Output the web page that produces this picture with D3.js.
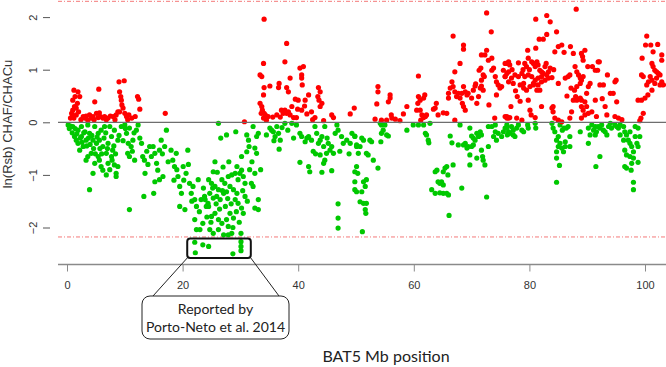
<!DOCTYPE html>
<html>
<head>
<meta charset="utf-8">
<script src="https://cdn.jsdelivr.net/npm/d3@7"></script>
<style>
  body { margin: 0; background: #fff; }
  svg { display: block; }
</style>
</head>
<body>
<svg id="chart"></svg>
<script>
// BAT5 Mb position vs ln(Rsb) CHAF/CHACu
const xTicks = [0, 20, 40, 60, 80, 100];
const yTicks = [-2, -1, 0, 1, 2];
const thresholds = [2.3, -2.18];
const xLabel = "BAT5 Mb position";
const yLabel = "ln(Rsb) CHAF/CHACu";
const noteLines = ["Reported by", "Porto-Neto et al. 2014"];
// highlighted region [Mb from, Mb to, value top, value bottom]
const noteRegion = [20.8, 31.8, -2.21, -2.58];

// [Mb, ln(Rsb)] positive values
const redPoints = [
  [1.2,0.61],[1.9,0.58],[2.2,0.49],[1.8,0.36],[1.3,0.30],[1.0,0.23],[0.8,0.17],[1.6,0.14],[2.0,0.20],[1.2,0.08],
  [0.9,0.11],[1.6,0.27],[1.0,0.42],[1.4,0.49],[0.6,0.08],[2.8,0.11],[3.3,0.12],[3.9,0.14],[4.5,0.11],[5.1,0.17],
  [5.6,0.18],[5.8,0.11],[6.2,0.08],[4.8,0.39],[5.5,0.63],[3.1,0.08],[4.2,0.08],[5.4,0.09],[6.5,0.11],[7.1,0.08],
  [8.0,0.11],[8.5,0.14],[8.8,0.20],[9.0,0.77],[9.9,0.79],[9.1,0.58],[9.3,0.49],[9.4,0.42],[9.5,0.33],[9.7,0.27],
  [9.1,0.20],[10.0,0.17],[10.3,0.11],[10.7,0.14],[11.8,0.11],[12.2,0.49],[12.4,0.44],[12.6,0.25],[17.0,0.17],
  [2.4,0.05],[3.6,0.04],[4.7,0.05],[6.8,0.05],[7.5,0.12],[8.3,0.05],[10.5,0.05],[11.2,0.08],
  [34.1,1.96],[38.0,1.50],[34.0,1.12],[37.7,1.15],[40.3,1.03],[40.9,1.06],[33.4,0.90],[33.7,0.87],[36.7,0.74],[36.6,0.66],
  [38.6,0.84],[40.6,0.90],[40.6,0.84],[40.7,0.71],[34.1,0.66],[35.1,0.69],[38.0,0.66],[38.3,0.58],[43.5,0.66],[43.8,0.58],
  [43.4,0.49],[43.6,0.42],[44.1,0.36],[43.8,0.30],[34.0,0.52],[39.5,0.44],[40.0,0.42],[41.2,0.42],[41.8,0.52],[41.1,0.31],
  [40.6,0.23],[33.4,0.36],[33.7,0.30],[33.8,0.23],[34.3,0.14],[34.5,0.11],[34.0,0.08],[34.8,0.11],[33.6,0.17],[34.1,0.17],
  [34.5,0.04],[37.1,0.23],[37.7,0.23],[38.0,0.17],[38.3,0.20],[38.6,0.14],[39.2,0.09],[39.7,0.09],[36.3,0.14],[37.4,0.17],
  [41.5,0.16],[42.9,0.09],[44.4,0.03],[45.8,0.14],[46.1,0.09],[49.0,0.16],[49.7,0.27],[30.7,0.01],
  [35.6,0.10],[36.9,0.10],[38.9,0.30],[39.9,0.25],[42.3,0.20],[42.5,0.05],
  [53.8,0.68],[53.8,0.58],[53.6,0.35],[55.9,0.52],[55.9,0.46],[55.6,0.39],[53.3,0.06],[54.4,0.04],[55.3,0.04],[56.2,0.08],
  [56.8,0.06],[57.6,0.03],[58.2,0.16],[58.8,0.30],[56.1,0.14],[60.8,0.88],[60.8,0.49],[61.1,0.42],[60.7,0.36],[61.9,0.52],
  [61.7,0.46],[60.5,0.23],[61.1,0.23],[61.4,0.14],[61.7,0.09],[62.0,0.11],[62.2,0.14],[61.2,0.04],[63.9,0.36],[63.7,0.27],
  [63.4,0.25],[65.1,0.18],[64.2,0.14],[65.7,0.17],[66.8,1.64],[68.6,1.47],[68.6,1.39],[68.0,1.12],[67.1,0.96],[66.6,0.77],
  [66.8,0.68],[66.3,0.65],[66.0,0.55],[66.0,0.46],[67.1,0.58],[67.7,0.55],[67.4,0.49],[68.0,0.46],[68.3,0.55],[68.6,0.68],
  [68.9,0.58],[68.4,0.36],[68.6,0.30],[68.9,0.23],[69.2,0.52],[69.4,0.55],[70.0,0.46],[70.3,0.61],[70.6,0.69],[70.7,0.73],
  [70.9,0.36],[71.2,0.49],[71.5,0.65],[71.7,0.69],[72.0,0.61],[71.7,0.80],[71.3,0.99],[71.6,1.03],[72.0,0.90],[72.2,0.87],
  [71.7,1.28],[72.3,1.28],[72.6,1.37],[73.4,1.72],[72.6,2.08],[72.9,1.18],[73.5,1.22],[73.5,0.99],[73.8,1.03],[74.1,0.87],
  [74.3,0.77],[74.6,0.71],[74.9,0.65],[75.2,0.68],[75.5,0.99],[75.8,0.87],[76.1,1.12],[76.4,0.96],[74.3,0.52],[73.0,0.33],
  [74.0,0.08],[67.1,0.04],[76.1,0.11],[76.4,0.08],
  [88.1,2.15],[83.0,2.03],[81.1,1.96],[83.6,1.91],[84.7,1.72],[83.0,1.67],[81.7,1.58],[82.4,1.58],[79.7,1.37],[81.1,1.41],
  [84.4,1.34],[85.0,1.44],[85.6,1.47],[86.0,1.33],[87.1,1.44],[87.6,1.31],[89.0,1.31],[89.6,1.37],[89.2,1.25],[89.3,1.18],
  [91.9,1.15],[75.8,1.12],[76.4,1.15],[76.6,1.09],[78.1,1.13],[79.2,1.12],[79.5,1.06],[79.8,1.22],[80.4,1.15],[80.7,1.12],
  [81.0,1.06],[81.3,1.15],[81.5,1.09],[81.8,0.99],[82.1,0.96],[82.4,0.93],[82.7,1.06],[83.0,0.90],[83.3,0.96],[83.6,1.03],
  [83.3,0.84],[82.7,0.80],[82.1,0.77],[81.5,0.84],[81.0,0.80],[80.4,0.87],[79.8,0.90],[79.2,0.87],[78.7,0.93],[78.1,0.87],
  [77.5,0.90],[76.9,0.84],[76.4,0.77],[75.8,0.87],[76.1,0.93],[77.2,0.74],[78.4,0.71],[79.0,0.65],[79.5,0.61],[80.1,0.68],
  [80.7,0.74],[81.3,0.61],[81.5,0.71],[82.1,0.87],[79.0,0.74],[81.8,0.61],[77.9,0.49],[79.8,0.42],[80.7,0.71],[85.0,0.74],
  [86.2,0.84],[86.7,0.87],[87.0,0.90],[87.9,1.06],[88.2,0.96],[88.5,0.90],[88.8,0.84],[89.0,0.80],[89.3,0.87],[88.8,0.74],
  [88.2,0.68],[87.8,0.61],[88.0,0.49],[87.6,0.42],[88.2,0.42],[88.8,0.46],[89.0,0.42],[89.6,0.39],[89.9,0.55],[90.2,0.68],
  [90.5,0.74],[90.1,1.06],[90.9,1.06],[91.4,0.99],[91.8,0.99],[92.1,1.15],[89.0,0.30],[89.3,0.23],[89.9,0.30],[90.2,0.17],
  [90.8,0.20],[89.6,0.14],[89.0,0.08],[87.3,0.20],[87.0,0.08],[91.4,0.42],[92.2,0.71],[92.8,0.71],[93.1,0.30],[93.4,0.14],
  [94.0,0.55],[94.5,0.55],[94.8,0.77],[95.0,0.80],[95.1,0.39],[94.8,0.11],[95.4,0.08],[91.6,0.11],
  [77.0,1.00],[78.9,1.00],[80.0,1.00],[82.9,1.12],[83.9,0.85],[84.2,1.00],[77.6,0.60],[78.4,0.40],[76.8,0.30],[86.5,0.50],
  [87.2,0.65],[93.5,0.90],[92.6,0.45],[96.0,0.05],
  [75.8,0.11],[76.1,0.08],[76.6,0.09],[77.8,0.08],[78.7,0.04],[80.1,0.23],[80.3,0.14],[81.0,0.09],[82.1,0.30],[83.9,0.27],
  [84.1,0.20],[84.4,0.08],[85.0,0.04],[85.6,0.01],[84.1,0.30],
  [100.3,1.64],[100.1,1.47],[101.0,1.47],[102.2,1.48],[101.4,1.34],[99.5,1.22],[102.9,1.28],[102.9,1.18],[101.2,1.12],[101.4,1.06],
  [101.7,0.99],[102.0,0.96],[102.3,0.93],[102.6,0.90],[102.0,0.84],[102.9,0.77],[102.6,0.71],[101.7,0.74],[101.2,0.80],[100.6,0.77],
  [100.9,0.87],[99.4,0.90],[99.7,0.87],[103.2,0.71],[100.3,0.71],[100.5,0.52],[100.0,0.46],[99.4,0.42],[98.8,0.42],[101.2,0.61],
  [99.7,0.17],[99.3,0.08],[99.1,0.03]
];

// [Mb, ln(Rsb)] negative values
const greenPoints = [
  [0.2,-0.05],[0.6,-0.07],[1.0,-0.08],[1.3,-0.27],[1.6,-0.34],[1.9,-0.15],[2.2,-0.53],[2.8,-0.46],[3.3,-0.34],[3.9,-0.21],
  [4.2,-0.59],[3.6,-0.65],[3.3,-0.72],[2.5,-0.08],[3.1,-0.18],[3.6,-0.05],[4.8,-0.08],[5.4,-0.21],[5.9,-0.15],[6.5,-0.08],
  [4.5,-0.34],[5.1,-0.40],[5.6,-0.34],[6.2,-0.46],[2.5,-0.27],[1.9,-0.40],[4.5,-0.97],[4.8,-0.78],[5.4,-0.65],[5.6,-0.72],
  [5.9,-0.84],[6.2,-0.91],[3.9,-1.28],[6.8,-1.00],[7.1,-0.78],[7.7,-0.65],[7.9,-0.53],[8.2,-0.81],[8.5,-1.03],[8.8,-0.84],
  [8.5,-0.97],[7.1,-0.40],[7.7,-0.27],[8.2,-0.15],[7.4,-0.08],[6.8,-0.59],[8.8,-0.34],[9.4,-0.08],[10.0,-0.05],[10.3,-0.21],
  [10.5,-0.59],[10.8,-0.65],[11.1,-0.46],[11.4,-0.34],[10.8,-1.66],[11.7,-0.72],[12.0,-0.15],[12.3,-0.05],[10.8,-0.11],[12.9,-0.40],
  [13.1,-0.65],[13.4,-0.72],[13.5,-0.97],[13.3,-1.41],[14.3,-0.46],[14.6,-0.65],[14.9,-0.46],[15.2,-0.59],[15.5,-0.78],[15.7,-0.91],
  [16.0,-0.53],[16.3,-0.34],[16.9,-0.46],[17.2,-0.15],[16.6,-1.03],[16.0,-1.09],[15.2,-1.13],[15.0,-1.35],[18.0,-0.53],[18.3,-0.72],
  [18.6,-0.84],[18.9,-0.59],[19.2,-1.03],[19.5,-1.22],[19.8,-1.35],[19.5,-1.60],[20.4,-1.66],[20.1,-0.84],[20.6,-0.97],[20.9,-0.53],
  [21.2,-1.16],[21.5,-1.35],[21.8,-1.22],[22.1,-1.47],[22.4,-1.60],[22.7,-1.09],[22.1,-1.85],[22.4,-2.04],[23.2,-1.47],[23.8,-1.41],
  [24.1,-1.60],[23.5,-1.92],[23.0,-2.04],[24.4,-1.54],
  [0.4,-0.12],[0.9,-0.20],[1.4,-0.12],[1.7,-0.22],[2.3,-0.30],[2.6,-0.38],[2.9,-0.20],[3.4,-0.45],[3.7,-0.30],[4.0,-0.42],
  [4.3,-0.25],[4.6,-0.50],[4.9,-0.60],[5.2,-0.28],[5.7,-0.50],[6.0,-0.60],[6.4,-0.30],[6.7,-0.20],[7.0,-0.50],[7.4,-0.90],
  [7.8,-0.72],[8.1,-0.45],[8.4,-0.60],[9.0,-0.25],[9.7,-0.35],[10.1,-0.12],[10.6,-0.40],[11.3,-0.55],[11.6,-0.20],[12.6,-0.30],
  [13.8,-0.55],[14.0,-0.80],[16.5,-0.60],[17.5,-0.75],[18.5,-1.10],[19.0,-0.90],[20.2,-1.10],[21.0,-0.80],[21.6,-1.50],[22.9,-1.70],
  [23.6,-1.25],
  [22.1,-2.28],[23.5,-2.33],[24.5,-2.36],[22.2,-2.48],[28.7,-2.50],[30.1,-2.44],[30.1,-2.36],
  [26.2,-0.02],[26.6,-0.30],[27.6,-0.24],[29.2,-0.18],[31.1,-0.24],[31.4,-0.34],[31.5,-0.46],[32.2,-0.08],[32.8,-0.27],[33.1,-0.21],
  [32.5,-0.49],[32.8,-0.59],[34.5,-0.24],[35.1,-0.11],[35.4,-0.15],[35.7,-0.18],[36.0,-0.27],[36.3,-0.08],[36.6,-0.21],[36.9,-0.34],
  [36.7,-0.51],[37.7,-0.02],[38.9,-0.02],[39.7,-0.05],[40.3,-0.21],[40.6,-0.27],[41.2,-0.37],[41.5,-0.30],[41.8,-0.27],[42.3,-0.34],
  [42.9,-0.08],[43.2,-0.21],[43.5,-0.40],[43.8,-0.34],[44.1,-0.27],[44.4,-0.46],[44.6,-0.08],[44.9,-0.59],[45.2,-0.40],[45.5,-0.53],
  [45.8,-0.46],[46.1,-0.59],[46.4,-0.21],[46.7,-0.05],[46.9,-0.15],[47.5,-0.27],[47.8,-0.40],[48.4,-0.34],[49.0,-0.40],[49.3,-0.21],
  [49.8,-0.27],[50.1,-0.46],[43.8,-0.62],[44.4,-0.78],[44.6,-0.72],[41.8,-0.84],[42.0,-0.94],[40.3,-0.76],[44.1,-0.95],[45.8,-0.92],
  [49.8,-0.94],[46.9,-1.55],[46.9,-1.82],[46.9,-2.01],[49.8,-1.28],
  [35.8,-0.35],[37.2,-0.10],[38.2,-0.15],[39.2,-0.30],[42.6,-0.55],[43.0,-0.60],[45.0,-0.30],[47.2,-0.55],[48.8,-0.60],
  [25.6,-0.75],[25.3,-0.94],[24.5,-1.09],[25.0,-1.16],[25.6,-1.22],[26.2,-1.28],[26.8,-1.09],[27.3,-1.16],[27.9,-1.03],[28.5,-1.00],
  [29.1,-0.97],[29.4,-0.84],[29.6,-1.09],[29.9,-0.97],[30.2,-0.91],[30.5,-1.03],[30.8,-1.16],[30.2,-0.65],[31.1,-0.56],[24.7,-1.35],
  [25.3,-1.44],[25.9,-1.41],[26.5,-1.47],[27.1,-1.35],[27.6,-1.32],[28.2,-1.22],[28.8,-1.28],[29.4,-1.35],[29.1,-1.47],[29.6,-1.54],
  [30.2,-1.63],[30.5,-1.73],[30.8,-1.41],[31.9,-1.16],[32.5,-0.97],[32.2,-1.22],[33.1,-1.47],[33.1,-1.66],[32.5,-1.63],[23.9,-1.47],
  [24.5,-1.60],[25.0,-1.79],[25.6,-1.73],[26.2,-1.85],[26.8,-1.92],[27.6,-1.85],[28.2,-1.73],[28.8,-1.82],[27.9,-1.98],[26.2,-2.04],
  [24.7,-2.04],[25.3,-2.11],[27.1,-2.14],[27.9,-2.14],[28.5,-2.11],[30.1,-2.11],[30.1,-2.27],
  [24.9,-1.90],[25.8,-1.55],[26.4,-1.65],[26.9,-1.30],[27.4,-1.60],[27.8,-1.45],[28.4,-1.55],[28.7,-2.00],[29.3,-1.70],[29.8,-1.90],
  [30.4,-1.30],[31.2,-1.50],[31.6,-0.90],[32.0,-0.75],[33.5,-0.90],[26.0,-0.95],[27.0,-0.85],[28.0,-0.75],[25.2,-1.25],[24.2,-1.80],
  [49.8,-0.26],[50.1,-0.43],[50.4,-0.59],[50.3,-0.97],[50.1,-0.84],[49.8,-1.13],[51.0,-0.30],[51.3,-0.34],[50.7,-0.46],[51.8,-0.59],
  [52.1,-0.62],[52.4,-0.34],[52.7,-0.37],[53.0,-0.72],[53.8,-0.87],[51.3,-1.13],[51.8,-1.09],[51.6,-1.22],[51.0,-1.32],[50.1,-1.32],
  [50.7,-1.51],[51.3,-1.54],[51.8,-1.54],[51.6,-1.66],[51.7,-1.73],[51.1,-2.08],[54.2,-0.02],[54.4,-0.05],[55.0,-0.05],[54.7,-0.15],
  [54.4,-0.21],[55.3,-0.24],[55.6,-0.26],[54.3,-0.37],[58.8,-0.15],[59.9,-0.05],[60.8,-0.05],[61.7,-0.05],[62.8,-0.02],[62.0,-0.21],
  [62.2,-0.24],[62.5,-0.34],[62.6,-0.39],[66.3,-0.26],[66.6,-0.39],[63.7,-0.94],[64.0,-0.91],[65.1,-0.94],[65.4,-0.87],[65.7,-0.84],
  [66.8,-0.81],[65.9,-1.00],[64.2,-1.13],[64.5,-1.16],[64.8,-1.13],[65.1,-1.19],[63.1,-1.28],[63.7,-1.35],[64.5,-1.34],[65.1,-1.35],
  [65.7,-1.35],[66.0,-1.38],[68.3,-1.25],[66.1,-1.77],[68.0,-0.05],[69.7,-0.11],[70.0,-0.26],[70.3,-0.30],[70.9,-0.21],[71.2,-0.27],
  [71.5,-0.18],[71.7,-0.24],[70.6,-0.34],[69.4,-0.46],[69.2,-0.49],[70.0,-0.46],[70.3,-0.43],[69.7,-0.62],[69.7,-0.81],[70.9,-0.68],
  [71.7,-0.53],[71.9,-0.65],[72.0,-0.72],[72.3,-0.81],[72.9,-0.46],[72.9,-0.08],[73.5,-0.08],[74.1,-0.05],[74.1,-0.18],[73.8,-0.27],
  [74.3,-0.34],[74.6,-0.21],[75.2,-0.27],[75.5,-0.18],[75.8,-0.11],[76.1,-0.05],[72.6,-1.42],[67.7,-0.43],[68.6,-0.43],[68.9,-0.40],
  [76.1,-0.11],[76.4,-0.18],[76.6,-0.21],[76.9,-0.08],[77.2,-0.15],[77.5,-0.27],[77.8,-0.11],[78.1,-0.05],[78.7,-0.15],[79.0,-0.18],
  [79.7,-0.05],[79.8,-0.11],[81.0,-0.02],[81.1,-0.11],[76.2,-0.24],[77.2,-0.24],[83.9,-0.02],[84.1,-0.11],[84.4,-0.18],[85.0,-0.27],
  [84.7,-0.34],[85.3,-0.40],[85.6,-0.49],[85.9,-0.56],[86.2,-0.46],[86.4,-0.11],[86.7,-0.08],[87.0,-0.27],[87.0,-0.46],[85.0,-0.46],
  [84.7,-0.56],[85.3,-0.05],[85.7,-0.15],[86.2,-0.37],[84.7,-0.68],[85.2,-0.82],[84.7,-1.14],[86.0,-0.11],[88.8,-0.18],[90.2,-0.11],
  [90.5,-0.24],[90.8,-0.05],[91.1,-0.15],[91.4,-0.08],[91.6,-0.18],[91.9,-0.08],[92.2,-0.11],[92.5,-0.05],[92.8,-0.15],[93.1,-0.18],
  [93.4,-0.24],[93.7,-0.08],[94.0,-0.02],[94.2,-0.11],[94.8,-0.05],[95.1,-0.08],[95.4,-0.11],[95.7,-0.05],[95.7,-0.24],[90.2,-0.40],
  [92.2,-0.65],[91.5,-0.84],[91.4,-0.24],[96.3,-0.08],[96.5,-0.18],[96.8,-0.24],[97.1,-0.34],[97.4,-0.40],[97.7,-0.46],[98.0,-0.56],
  [96.5,-0.53],[96.8,-0.62],[97.4,-0.65],[97.7,-0.78],[98.0,-0.68],[98.3,-0.27],[98.6,-0.40],[98.8,-0.46],[99.1,-0.27],[98.8,-0.11],
  [98.3,-0.08],[96.5,-0.84],[96.8,-0.87],[97.6,-0.91],[98.8,-0.76],[98.0,-1.14],[98.0,-1.28],[96.3,-0.34],[97.4,-0.18]
];

const width = 666, height = 367;
const svg = d3.select("#chart").attr("width", width).attr("height", height);

const x = d3.scaleLinear().domain([0, 100]).range([67, 645]);
const y = d3.scaleLinear().domain([-2, 2]).range([227.5, 17.1]);
const plotLeft = 58, plotRight = width, axisY = 264.5;

// significance thresholds
svg.append("g").selectAll("line")
    .data(thresholds)
    .join("line")
    .attr("x1", plotLeft).attr("x2", plotRight)
    .attr("y1", d => y(d)).attr("y2", d => y(d))
    .attr("stroke", "#f47a7a")
    .attr("stroke-width", 1)
    .attr("stroke-dasharray", "4,2,1,2");

// points
const pts = svg.append("g");
pts.selectAll("circle.neg")
    .data(greenPoints)
    .join("circle")
    .attr("class", "neg")
    .attr("cx", d => x(d[0])).attr("cy", d => y(d[1]))
    .attr("r", 2.6)
    .attr("fill", "#00c800");
pts.selectAll("circle.pos")
    .data(redPoints)
    .join("circle")
    .attr("class", "pos")
    .attr("cx", d => x(d[0])).attr("cy", d => y(d[1]))
    .attr("r", 2.6)
    .attr("fill", "#ff0000");

// zero line
svg.append("line")
    .attr("x1", plotLeft).attr("x2", plotRight)
    .attr("y1", y(0)).attr("y2", y(0))
    .attr("stroke", "#6e6e6e")
    .attr("stroke-width", 1.3);

// x axis
const xAxis = svg.append("g")
    .attr("transform", `translate(0, ${axisY})`)
    .call(d3.axisBottom(x).tickValues(xTicks).tickSize(7).tickPadding(10));
xAxis.select(".domain").remove();
xAxis.append("line")
    .attr("x1", plotLeft).attr("x2", plotRight)
    .attr("stroke", "#8a8a8a").attr("stroke-width", 1.5);
xAxis.selectAll(".tick line").attr("stroke", "#8a8a8a");
xAxis.selectAll("text")
    .style("font-family", "'Liberation Sans', Arial, sans-serif")
    .style("font-size", "11px")
    .attr("fill", "#333");

// y axis, R style rotated labels
const yAxis = svg.append("g")
    .attr("transform", "translate(50, 0)")
    .call(d3.axisLeft(y).tickValues(yTicks).tickSize(7).tickFormat(d3.format("d")));
yAxis.select(".domain").remove();
yAxis.selectAll(".tick line").attr("stroke", "#555");
yAxis.selectAll("text")
    .attr("x", 0).attr("dy", "0.35em")
    .attr("text-anchor", "middle")
    .attr("transform", "translate(-17, 0) rotate(-90)")
    .style("font-family", "'Liberation Sans', Arial, sans-serif")
    .style("font-size", "11px")
    .attr("fill", "#333");

svg.append("text")
    .attr("transform", "translate(12, 124) rotate(-90)")
    .attr("text-anchor", "middle")
    .style("font-family", "'Liberation Sans', Arial, sans-serif")
    .style("font-size", "13px")
    .attr("fill", "#333")
    .text(yLabel);

svg.append("text")
    .attr("x", 386).attr("y", 362)
    .attr("text-anchor", "middle")
    .style("font-family", "Lato, 'Open Sans', sans-serif")
    .style("font-size", "16px")
    .attr("fill", "#222")
    .text(xLabel);

// annotation box and callout
const bx0 = x(noteRegion[0]), bx1 = x(noteRegion[1]);
const by0 = y(noteRegion[2]), by1 = y(noteRegion[3]);
const note = svg.append("g");
note.append("rect")
    .attr("x", bx0).attr("y", by0)
    .attr("width", bx1 - bx0).attr("height", by1 - by0)
    .attr("rx", 3)
    .attr("fill", "none").attr("stroke", "#111").attr("stroke-width", 2);

const cx0 = 142, cx1 = 289, cy0 = 296, cy1 = 339;
note.append("line").attr("x1", bx0).attr("y1", by1).attr("x2", 153).attr("y2", cy0)
    .attr("stroke", "#222").attr("stroke-width", 1);
note.append("line").attr("x1", bx1).attr("y1", by1).attr("x2", 279).attr("y2", cy0)
    .attr("stroke", "#222").attr("stroke-width", 1);
note.append("rect")
    .attr("x", cx0).attr("y", cy0)
    .attr("width", cx1 - cx0).attr("height", cy1 - cy0)
    .attr("rx", 8)
    .attr("fill", "#fff").attr("stroke", "#222").attr("stroke-width", 1);
note.selectAll("text")
    .data(noteLines)
    .join("text")
    .attr("x", (cx0 + cx1) / 2)
    .attr("y", (d, i) => 314 + i * 18)
    .attr("text-anchor", "middle")
    .style("font-family", "Lato, 'Open Sans', sans-serif")
    .style("font-size", "14px")
    .attr("fill", "#222")
    .text(d => d);
</script>
</body>
</html>
